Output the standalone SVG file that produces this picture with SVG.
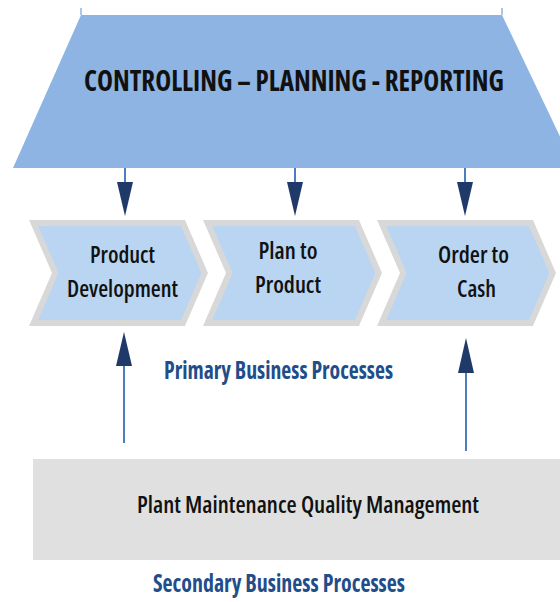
<svg xmlns="http://www.w3.org/2000/svg" width="560" height="602" viewBox="0 0 560 602">
  <style>
    .lbl { font-family: "Open Sans", "Noto Sans", "Liberation Sans", sans-serif; font-stretch: 75%; fill: #111111; text-anchor: middle; font-weight: 700; }
    .title { font-size: 28px; }
    .chevtxt { font-size: 24px; font-weight: 600; }
    .blue { fill: #1f4e8a; font-size: 25px; }
    .plant { font-size: 24px; font-weight: 600; }
    .chev { fill: #b9d5f2; stroke: #d8d8d8; stroke-width: 6; stroke-linejoin: miter; }
    .shaft { stroke: #4a7ec0; stroke-width: 2; fill: none; }
    .head { fill: #1f3a68; }
  </style>
  <defs>
    <polygon id="chevShape" class="chev" points="4.6,223 154,223 175.7,273 154,323 4.6,323 26.3,273"/>
  </defs>
  <rect x="0" y="0" width="560" height="602" fill="#ffffff"/>

  <g id="controlling">
    <polygon points="81,15 502,15 575,168 13,168" fill="#8db4e3"/>
    <line x1="81" y1="8" x2="81" y2="15" stroke="#8db4e3" stroke-width="1.5"/>
    <line x1="502" y1="8" x2="502" y2="15" stroke="#8db4e3" stroke-width="1.5"/>
    <text class="lbl title" x="294" y="91" textLength="420" lengthAdjust="spacingAndGlyphs">CONTROLLING – PLANNING - REPORTING</text>
  </g>

  <g id="product-development">
    <use href="#chevShape" transform="translate(29,0)"/>
    <text class="lbl chevtxt" x="122.5" y="263" textLength="65" lengthAdjust="spacingAndGlyphs">Product</text>
    <text class="lbl chevtxt" x="122.5" y="297" textLength="111" lengthAdjust="spacingAndGlyphs">Development</text>
  </g>

  <g id="plan-to-product">
    <use href="#chevShape" transform="translate(203,0)"/>
    <text class="lbl chevtxt" x="288" y="259" textLength="59" lengthAdjust="spacingAndGlyphs">Plan to</text>
    <text class="lbl chevtxt" x="288" y="293" textLength="66" lengthAdjust="spacingAndGlyphs">Product</text>
  </g>

  <g id="order-to-cash">
    <use href="#chevShape" transform="translate(377,0)"/>
    <text class="lbl chevtxt" x="473.5" y="263" textLength="71" lengthAdjust="spacingAndGlyphs">Order to</text>
    <text class="lbl chevtxt" x="476.5" y="297" textLength="39" lengthAdjust="spacingAndGlyphs">Cash</text>
  </g>

  <g id="primary-label">
    <text class="lbl blue" x="278.5" y="379" textLength="229" lengthAdjust="spacingAndGlyphs">Primary Business Processes</text>
  </g>

  <g id="secondary">
    <rect x="33" y="459" width="530" height="101" fill="#e0e0e0"/>
    <text class="lbl plant" x="308" y="513" textLength="342" lengthAdjust="spacingAndGlyphs">Plant Maintenance Quality Management</text>
  </g>

  <g id="secondary-label">
    <text class="lbl blue" x="279" y="592" textLength="252" lengthAdjust="spacingAndGlyphs">Secondary Business Processes</text>
  </g>

  <g id="connectors">
    <line class="shaft" x1="125" y1="168" x2="125" y2="184"/>
    <polygon class="head" points="117,182 133,182 125,216"/>
    <line class="shaft" x1="295" y1="168" x2="295" y2="184"/>
    <polygon class="head" points="287,182 303,182 295,216"/>
    <line class="shaft" x1="465" y1="168" x2="465" y2="184"/>
    <polygon class="head" points="457,182 473,182 465,216"/>

    <line class="shaft" x1="124" y1="443" x2="124" y2="364"/>
    <polygon class="head" points="116,366 132,366 124,332"/>
    <line class="shaft" x1="466" y1="451" x2="466" y2="371"/>
    <polygon class="head" points="458,373 474,373 466,338"/>
  </g>
</svg>
